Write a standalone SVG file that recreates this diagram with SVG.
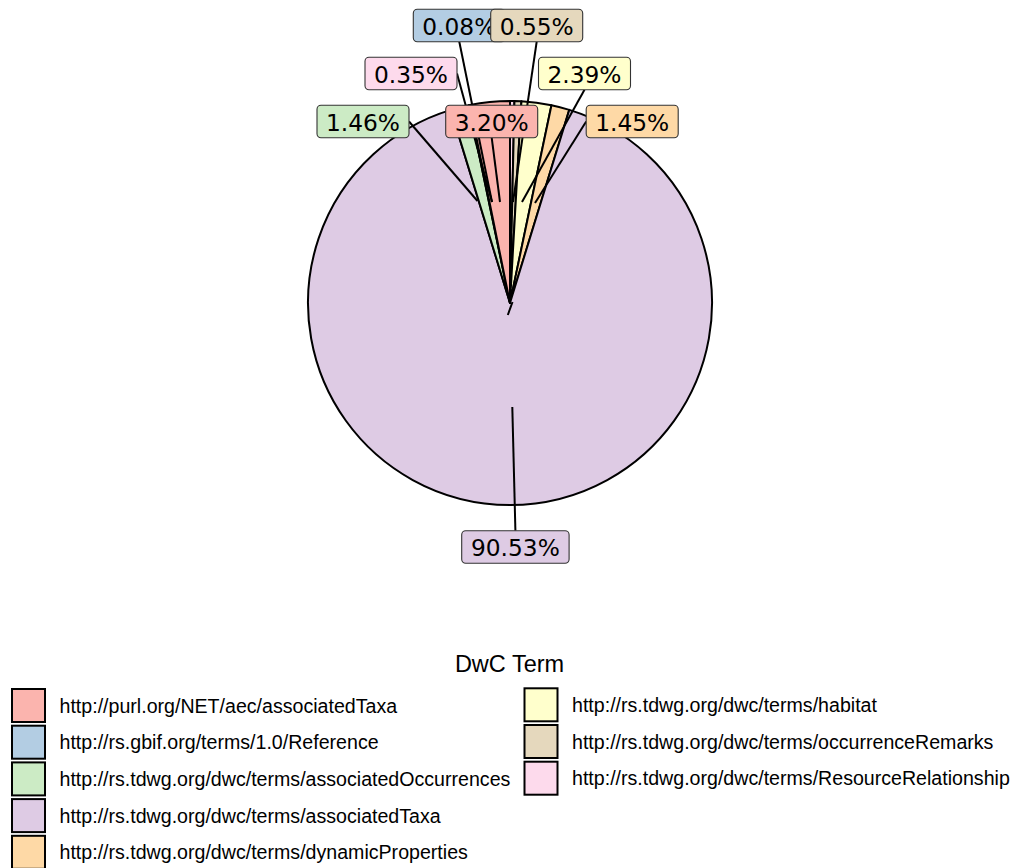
<svg xmlns="http://www.w3.org/2000/svg" width="1014" height="868" viewBox="0 0 1014 868">
  <style>
    .slice { stroke: #000; stroke-width: 2; stroke-linejoin: round; }
    .seg { stroke: #000; stroke-width: 2; fill: none; stroke-linecap: butt; }
    .lbl rect { stroke: #333; stroke-width: 1.1; }
    .lbl text { font-family: "DejaVu Sans", sans-serif; font-size: 23.3px; fill: #000; text-anchor: middle; }
    .key { stroke: #000; stroke-width: 2; }
    .ltxt { font-family: "Liberation Sans", Arial, sans-serif; font-size: 19.6px; fill: #000; }
    .ltitle { font-family: "Liberation Sans", Arial, sans-serif; font-size: 23.5px; fill: #000; text-anchor: middle; }
  </style>
  <rect width="1014" height="868" fill="#fff"/>

  <!-- pie slices, clockwise from 12 o'clock; centre (510,303), radius 202 -->
  <g id="pie">
    <path id="slice-ResourceRelationship" class="slice" fill="#FDDAEC" d="M510,303 L510,101 A202,202 0 0 1 514.44,101.05 Z"/>
    <path id="slice-occurrenceRemarks" class="slice" fill="#E5D8BD" d="M510,303 L514.44,101.05 A202,202 0 0 1 521.42,101.32 Z"/>
    <path id="slice-habitat" class="slice" fill="#FFFFCC" d="M510,303 L521.42,101.32 A202,202 0 0 1 551.46,105.30 Z"/>
    <path id="slice-dynamicProperties" class="slice" fill="#FED9A6" d="M510,303 L551.46,105.30 A202,202 0 0 1 569.27,109.89 Z"/>
    <path id="slice-associatedTaxa" class="slice" fill="#DECBE4" d="M510,303 L569.27,109.89 A202,202 0 1 1 450.85,109.86 Z"/>
    <path id="slice-associatedOccurrences" class="slice" fill="#CCEBC5" d="M510,303 L450.85,109.86 A202,202 0 0 1 468.79,105.25 Z"/>
    <path id="slice-Reference" class="slice" fill="#B3CDE3" d="M510,303 L468.79,105.25 A202,202 0 0 1 469.78,105.04 Z"/>
    <path id="slice-aecAssociatedTaxa" class="slice" fill="#FBB4AE" d="M510,303 L469.78,105.04 A202,202 0 0 1 510,101 Z"/>
  </g>

  <!-- label leader lines -->
  <g id="connectors">
    <line class="seg" x1="491.7" y1="137.7" x2="500" y2="202"/>
    <line class="seg" x1="459.3" y1="41.7" x2="492" y2="202"/>
    <line class="seg" x1="409" y1="121.5" x2="477.5" y2="201"/>
    <line class="seg" x1="515.4" y1="530.7" x2="512.3" y2="407"/>
    <line class="seg" x1="586.2" y1="121.5" x2="535" y2="203"/>
    <line class="seg" x1="584.5" y1="89.7" x2="522" y2="202"/>
    <line class="seg" x1="536.7" y1="41.7" x2="513" y2="202"/>
    <line class="seg" x1="457" y1="73.5" x2="492" y2="202"/>
    <line class="seg" x1="512.5" y1="302" x2="507.8" y2="315"/>
  </g>

  <!-- percentage labels -->
  <g id="label-aecAssociatedTaxa" class="lbl">
    <rect x="445.7" y="105.2" width="92" height="32.5" rx="4" fill="#FBB4AE"/>
    <text x="491.7" y="130.5">3.20%</text>
  </g>
  <g id="label-Reference" class="lbl">
    <rect x="413.3" y="9.2" width="92" height="32.5" rx="4" fill="#B3CDE3"/>
    <text x="459.3" y="34.5">0.08%</text>
  </g>
  <g id="label-associatedOccurrences" class="lbl">
    <rect x="317" y="105.2" width="92" height="32.5" rx="4" fill="#CCEBC5"/>
    <text x="363" y="130.5">1.46%</text>
  </g>
  <g id="label-associatedTaxa" class="lbl">
    <rect x="461.7" y="530.7" width="107.4" height="32.5" rx="4" fill="#DECBE4"/>
    <text x="515.4" y="556">90.53%</text>
  </g>
  <g id="label-dynamicProperties" class="lbl">
    <rect x="586.2" y="105.2" width="92" height="32.5" rx="4" fill="#FED9A6"/>
    <text x="632.2" y="130.5">1.45%</text>
  </g>
  <g id="label-habitat" class="lbl">
    <rect x="538.5" y="57.2" width="92" height="32.5" rx="4" fill="#FFFFCC"/>
    <text x="584.5" y="82.5">2.39%</text>
  </g>
  <g id="label-occurrenceRemarks" class="lbl">
    <rect x="490.7" y="9.2" width="92" height="32.5" rx="4" fill="#E5D8BD"/>
    <text x="536.7" y="34.5">0.55%</text>
  </g>
  <g id="label-ResourceRelationship" class="lbl">
    <rect x="365" y="57.2" width="92" height="32.5" rx="4" fill="#FDDAEC"/>
    <text x="411" y="82.5">0.35%</text>
  </g>

  <!-- legend -->
  <g id="legend">
    <text class="ltitle" x="509.5" y="671.5">DwC Term</text>
    <g id="legend-col1">
      <rect class="key" x="12" y="689" width="33" height="33" fill="#FBB4AE"/>
      <text class="ltxt" x="59.5" y="712.5">http://purl.org/NET/aec/associatedTaxa</text>
      <rect class="key" x="12" y="725.7" width="33" height="33" fill="#B3CDE3"/>
      <text class="ltxt" x="59.5" y="749.2">http://rs.gbif.org/terms/1.0/Reference</text>
      <rect class="key" x="12" y="762.4" width="33" height="33" fill="#CCEBC5"/>
      <text class="ltxt" x="59.5" y="785.9">http://rs.tdwg.org/dwc/terms/associatedOccurrences</text>
      <rect class="key" x="12" y="799.1" width="33" height="33" fill="#DECBE4"/>
      <text class="ltxt" x="59.5" y="822.6">http://rs.tdwg.org/dwc/terms/associatedTaxa</text>
      <rect class="key" x="12" y="835.8" width="33" height="33" fill="#FED9A6"/>
      <text class="ltxt" x="59.5" y="859.3">http://rs.tdwg.org/dwc/terms/dynamicProperties</text>
    </g>
    <g id="legend-col2">
      <rect class="key" x="524.5" y="688.3" width="33" height="33" fill="#FFFFCC"/>
      <text class="ltxt" x="572" y="712">http://rs.tdwg.org/dwc/terms/habitat</text>
      <rect class="key" x="524.5" y="725" width="33" height="33" fill="#E5D8BD"/>
      <text class="ltxt" x="572" y="748.7">http://rs.tdwg.org/dwc/terms/occurrenceRemarks</text>
      <rect class="key" x="524.5" y="761.7" width="33" height="33" fill="#FDDAEC"/>
      <text class="ltxt" x="572" y="785.4">http://rs.tdwg.org/dwc/terms/ResourceRelationship</text>
    </g>
  </g>
</svg>
